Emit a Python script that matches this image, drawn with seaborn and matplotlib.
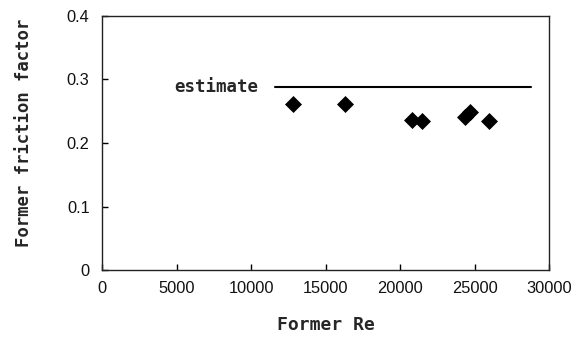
import matplotlib
matplotlib.use("Agg")
import matplotlib.pyplot as plt
import seaborn as sns
import pandas as pd

re_values = [12800, 16300, 20800, 21450, 24350, 24650, 25950]
friction = [0.261, 0.261, 0.236, 0.235, 0.241, 0.249, 0.234]

# estimate line
est_re = [11600, 28800]
est_f = [0.288, 0.288]

x_ticks = [0, 5000, 10000, 15000, 20000, 25000, 30000]
y_ticks = [0, 0.1, 0.2, 0.3, 0.4]
y_tick_labels = ["0", "0.1", "0.2", "0.3", "0.4"]

sns.set_style("white")
plt.rcParams['font.family'] = ['Liberation Sans', 'DejaVu Sans']

df = pd.DataFrame({'Re': re_values, 'f': friction})
est = pd.DataFrame({'Re': est_re, 'f': est_f})

fig, ax = plt.subplots(figsize=(5.8, 3.38), dpi=100)
fig.subplots_adjust(left=0.176, right=0.947, top=0.953, bottom=0.201)

sns.lineplot(data=est, x='Re', y='f', color='black', linewidth=1.5, ax=ax)
sns.scatterplot(data=df, x='Re', y='f', marker='D', color='black', s=75,
                edgecolor='black', linewidth=0, ax=ax)

ax.text(10500, 0.288, 'estimate', ha='right', va='center', fontsize=12.5,
        family='DejaVu Sans Mono', fontweight='bold')

ax.set_xlim(0, 30000)
ax.set_ylim(0, 0.4)
ax.set_xticks(x_ticks)
ax.set_xticklabels([str(t) for t in x_ticks])
ax.set_yticks(y_ticks)
ax.set_yticklabels(y_tick_labels)
ax.tick_params(axis='both', direction='in', length=4, width=1, color='black',
               labelsize=11.8, labelcolor='#111111', bottom=True, left=True)
ax.tick_params(axis='y', pad=9)
ax.tick_params(axis='x', pad=8)

for sp in ax.spines.values():
    sp.set_color('#222222')
    sp.set_linewidth(1)

ax.set_xlabel('Former Re', fontsize=13, family='DejaVu Sans Mono',
              fontweight='bold', labelpad=14)
ax.set_ylabel('Former friction factor', fontsize=12.4, family='DejaVu Sans Mono',
              fontweight='bold', labelpad=24)
ax.yaxis.label.set_y(0.54)

fig.savefig('out.png', dpi=100)
